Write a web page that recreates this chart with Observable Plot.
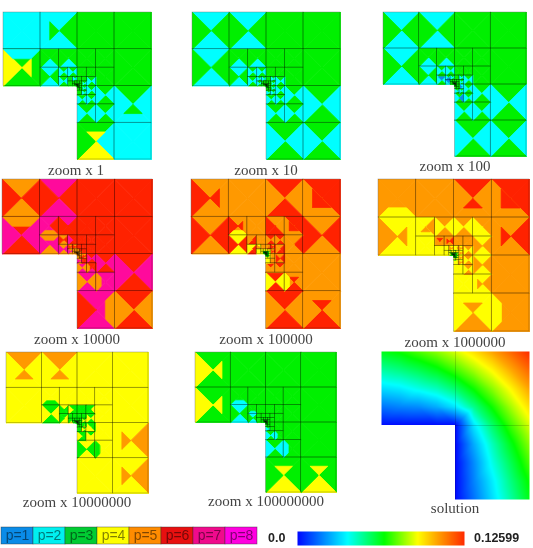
<!DOCTYPE html>
<html>
<head>
<meta charset="utf-8">
<script src="https://cdn.jsdelivr.net/npm/d3@7"></script>
<script src="https://cdn.jsdelivr.net/npm/@observablehq/plot@0.6"></script>
<style>
html,body{margin:0;padding:0;background:#fff;}
#root{position:relative;width:533px;height:548px;overflow:hidden;filter:blur(.5px);background:#fff;}
.box{position:absolute;}
.box svg{overflow:visible;display:block;background:transparent;}
.cap{position:absolute;transform:translate(-50%,-50%);font:15px "Liberation Serif",serif;color:#444;white-space:nowrap;}
.num{position:absolute;transform:translateY(-50%);font:bold 12.5px "Liberation Sans",sans-serif;color:#222;white-space:nowrap;}
</style>
</head>
<body>
<div id="root"></div>
<script>
// ---- legend ----
const orderLabels = ["p=1","p=2","p=3","p=4","p=5","p=6","p=7","p=8"];
const orderValues = [1,2,3,4,5,6,7,8];
const orderColors = ["#0a8ce8","#00ffff","#00f000","#ffff00","#ff9900","#ff2200","#ff0a9c","#ff00ff"];
const legendColors = ["#0a8ce8","#00f0f0","#00cc33","#ffff00","#ff8c00","#e81010","#f00a8c","#ff00e0"];
const rampStops = [0,0.3,0.52,0.72,0.85,1];
const rampColors = ["#0008ff","#00ffff","#00ff00","#ffff00","#ff9900","#ff2a00"];
const rampMin = "0.0", rampMax = "0.12599";
const captions = ["zoom x 1","zoom x 10","zoom x 100","zoom x 10000","zoom x 100000","zoom x 1000000","zoom x 10000000","zoom x 100000000","solution"];

// ---- element orders, per refinement level; each token = N E S W edge order ----
const orders1 = [
 "2222 2322 3334 3333 3333 3333 3222 3243 2222",
 "3323 3323 2323 3333 3333 3333 3232 3232 3232",
 "3232 3232 3232 3333 3333 3232 3232 3232 3232",
 "3333 3232 3333 3333 3333 3232 3232 3333 3232",
 "3333 3333 3333 3333 3333 3333 3333 3333 3333"];
const tips1 = [[0,1,"W",3,0,.5],[0,2,"E",4,0,.5],[0,2,"N",2,.5,1],[0,6,"S",3,0,.5],[0,7,"N",4,0,.5]];
const orders2 = [
 "2323 2323 2323 3333 3333 3333 3232 3232 3232",
 "3323 3323 2323 3333 3333 3333 3232 3232 3232",
 "3232 3232 3232 3333 3333 3232 3232 3232 3232",
 "3232 3232 3232 3333 3232 3232 3232 3232 3232",
 "3333 3333 3333 3333 3333 3333 3333 3333 3333"];
const tips2 = [];
const orders3 = [
 "2323 2323 2323 3333 3333 3333 3232 3232 3232",
 "3323 3323 2323 3333 3333 3333 3232 3232 3232",
 "3232 3232 3232 3333 3333 3232 3232 3232 3232",
 "3232 3232 2222 3333 3232 3232 2222 3232 3232",
 "3333 3333 3333 3333 3333 3333 3333 3333 3333"];
const tips3 = [[2,2,"N",1,0,.7],[2,7,"E",1,0,.8],[3,0,"S",1,0,1],[3,6,"W",1,0,1],[3,2,"N",1,0,1]];
const orders4 = [
 "5656 7676 6767 6666 6666 6666 6767 7776 6565",
 "7677 7666 7757 6666 6666 6666 6767 7575 7777",
 "5656 6667 5757 6666 6666 6666 6767 7575 6676",
 "5656 5656 5757 6666 6666 6666 5656 5757 6666",
 "5555 5555 5555 5555 6666 5656 5555 5555 5656",
 "5555 5555 5555 5555 5555 5555 5555 5555 5555"];
const tips4 = [[0,2,"N",5,.5,1],[0,7,"E",5,.5,1],[1,0,"S",5,.5,1],[1,2,"N",5,.5,1],[1,8,"W",5,.5,1],[2,8,"W",5,.5,1]];
const orders5 = [
 "5556 5555 5656 6565 6655 5656 5555 6565 5565",
 "5556 5555 4646 5566 6655 5655 5555 6464 5565",
 "5665 5555 4664 6565 6565 5665 5656 6555 6555",
 "4455 5555 4444 5565 5656 5656 5555 4444 5555",
 "4444 4444 4444 4444 4444 4444 4444 4444 4444",
 "3333 3333 3333 3333 3333 3333 3333 3333 3333"];
const tips5 = [[0,0,"E",6,0,.5],[0,4,"W",6,0,.5],[0,4,"S",6,0,.5],[0,8,"N",6,0,.5],
 [1,0,"E",6,0,.5],[1,0,"S",4,.5,1],[1,4,"W",6,0,.5],[1,4,"S",6,0,.5],[1,8,"N",6,0,.5],[1,8,"W",4,.5,1]];
const orders6 = [
 "5555 5555 4445 6555 6655 5655 5555 4454 5555",
 "4544 5454 4444 5454 5544 4545 4545 4444 4544",
 "5555 5655 4444 5555 5555 5454 5454 4444 5454",
 "4444 4545 4444 4544 4545 4545 4545 4444 4545",
 "3434 4444 3434 3434 4444 3434 3434 3434 4444",
 "3333 3333 3333 3333 3333 3333 3333 3333 3333"];
const tips6 = [[0,0,"S",4,.5,1],[0,2,"E",5,0,.5],[0,3,"S",6,0,.5],[0,4,"W",6,0,.5],[0,4,"S",6,0,.5],[0,5,"W",6,0,.5],
 [0,7,"N",5,0,.5],[0,8,"W",4,.5,1],[1,0,"S",5,0,.5],[1,8,"W",5,0,.5],[2,0,"N",6,0,.6],[2,1,"W",6,0,.5]];
const orders7 = [
 "5444 5444 4444 4444 4444 4444 4544 4444 4544",
 "4444 4444 3434 4444 4444 4444 4444 4343 4444",
 "4333 3334 3443 3333 3433 3434 3344 3334 3444",
 "3333 3333 3343 3333 3333 3434 3343 3333 3434",
 "3333 3333 3333 3333 3333 3333 3333 3333 3333"];
const tips7 = [[0,0,"S",5,0,.5],[0,1,"S",5,0,.5],[0,6,"W",5,0,.5],[0,8,"W",5,0,.5],[1,0,"S",3,.5,1],[1,8,"W",3,.5,1]];
const orders8 = [
 "3334 3333 3334 3333 3333 3333 3333 3343 3343",
 "3333 3333 2323 3333 3333 3333 3333 3232 3333",
 "3333 3333 2323 3333 3333 3333 3333 3232 3333",
 "3333 3333 3333 3333 3333 3333 3333 3232 3333",
 "3333 3333 3333 3333 3333 3333 3333 3333 3333"];
const tips8 = [[0,0,"E",4,0,.5],[0,2,"E",4,0,.5],[0,7,"N",4,0,.5],[0,8,"N",4,0,.5],[1,0,"S",2,.5,1],[1,8,"W",2,.5,1],[2,0,"S",2,.5,1],[2,8,"W",2,.5,1]];

// ---- solution values read on a half-unit mesh, fraction of the maximum ----
const solX = [0,.5,1,1.5,2,2.5,3,3.5,4];
const solRows = [
 [.50,.53,.58,.63,.69,.76,.84,.92,1],
 [.38,.41,.45,.50,.57,.65,.73,.83,.92],
 [.26,.28,.32,.36,.43,.53,.63,.73,.84],
 [.13,.15,.16,.20,.27,.40,.53,.65,.76],
 [0,0,0,0,0,.27,.43,.57,.69],
 [,,,,0,.20,.36,.50,.63],
 [,,,,0,.16,.32,.45,.58],
 [,,,,0,.15,.28,.41,.53],
 [,,,,0,.13,.26,.38,.50]];

// ---- page layout: left, top, right, bottom of each panel; caption centres ----
const layout = [[3,12,151,159],[192,12,340,159],[383,12,526,156],[2,179,152,328],[191,179,340,328],[378,179,529,331],[6,352,148,493],[195,352,336,492],[381,351,529,499]];
const capAt = [[76,170],[266,170],[455,166],[77,339],[266,339],[455,342],[77,502],[266,501],[455,508]];

// mesh: rings of nine cells graded toward the re-entrant corner
const ring = [[-2,-2],[-1,-2],[-2,-1],[0,-2],[1,-2],[1,-1],[1,0],[0,1],[1,1]];
const corner = 2, depth = 8;
const dirs = {N:[0,-1],S:[0,1],E:[1,0],W:[-1,0]};
function wedge(out, id, cell, side, p, e0, e1){
  const h = cell.s/2, cx = cell.x+h, cy = cell.y+h, [dx,dy] = dirs[side];
  const pt = (e,k)=>({id, p, x:cx+dx*h*e - dy*k*h*e, y:cy+dy*h*e + dx*k*h*e});
  out.push(pt(e0,-1),pt(e1,-1),pt(e1,1),pt(e0,1));
}
function buildMesh(orders,tips){
  const cells=[],pts=[];
  let n=0;
  for(let l=0;l<depth;l++){
    const s=1/2**l, toks=orders[Math.min(l,orders.length-1)].split(" ");
    ring.forEach(([i,j],k)=>{
      const cell={x:corner+i*s,y:corner+j*s,s};
      cells.push(cell);
      ["N","E","S","W"].forEach((d,q)=>wedge(pts,n++,cell,d,+toks[k][q],0,1));
      tips.filter(t=>t[0]===l&&t[1]===k).forEach(t=>wedge(pts,n++,cell,t[2],t[3],t[4],t[5]));
    });
  }
  return {cells,pts};
}
const root=document.getElementById("root");
function place(node,l,t){const d=document.createElement("div");d.className="box";d.style.left=l+"px";d.style.top=t+"px";d.appendChild(node);root.appendChild(d);}

[[orders1,tips1],[orders2,tips2],[orders3,tips3],[orders4,tips4],[orders5,tips5],[orders6,tips6],[orders7,tips7],[orders8,tips8]].forEach(([o,t],i)=>{
  const {cells,pts}=buildMesh(o,t), [l,tp,r,b]=layout[i];
  place(Plot.plot({
    width:r-l,height:b-tp,margin:0,
    x:{domain:[0,4],axis:null},y:{domain:[4,0],axis:null},
    color:{type:"ordinal",domain:orderValues,range:orderColors},
    marks:[
      Plot.line(pts,{x:"x",y:"y",z:"id",fill:"p",stroke:"p",strokeWidth:.8,curve:"linear-closed"}),
      Plot.rect(cells,{x1:"x",y1:"y",x2:d=>d.x+d.s,y2:d=>d.y+d.s,fill:"none",stroke:"#000",strokeOpacity:.38,strokeWidth:.6})
    ]
  }),l,tp);
});

// solution panel
const solNodes=[];
solRows.forEach((row,j)=>row.forEach((v,i)=>{ if(v!==undefined) solNodes.push({x:solX[i],y:solX[j],v}); }));
{
  const [l,tp,r,b]=layout[8];
  place(Plot.plot({
    width:r-l,height:b-tp,margin:0,
    x:{domain:[0,4],axis:null},y:{domain:[4,0],axis:null},
    color:{type:"linear",domain:rampStops,range:rampColors},
    marks:[
      Plot.raster(solNodes,{x:"x",y:"y",fill:"v",interpolate:"barycentric",pixelSize:1,x1:0,x2:4,y1:4,y2:0}),
      Plot.ruleX([2],{y1:0,y2:4,stroke:"#000",strokeOpacity:.15}),
      Plot.ruleY([2],{x1:0,x2:4,stroke:"#000",strokeOpacity:.15}),
      Plot.rect([{a:0,b:2,c:2,d:4}],{x1:"a",x2:"b",y1:"c",y2:"d",fill:"#fff",insetLeft:-3,insetBottom:-3})
    ]
  }),l,tp);
}

// captions
captions.forEach((c,i)=>{const d=document.createElement("div");d.className="cap";d.textContent=c;d.style.left=capAt[i][0]+"px";d.style.top=capAt[i][1]+"px";root.appendChild(d);});

// order legend
const legendRows=orderLabels.map((label,i)=>({label,value:orderValues[i]}));
place(Plot.plot({
  width:257,height:17,margin:0,
  x:{type:"band",domain:orderLabels,padding:0,axis:null},y:{axis:null},
  color:{type:"ordinal",domain:orderValues,range:legendColors},
  marks:[
    Plot.cell(legendRows,{x:"label",fill:"value",stroke:"#333",strokeOpacity:.6,strokeWidth:.7}),
    Plot.text(legendRows,{x:"label",text:"label",fill:"#000",fillOpacity:.5,fontSize:14,fontFamily:"Liberation Sans"})
  ]
}),0,527);

// colour ramp legend
place(Plot.plot({
  width:167,height:14,margin:0,
  x:{domain:[0,1],axis:null},y:{domain:[0,1],axis:null},
  color:{type:"linear",domain:rampStops,range:rampColors},
  marks:[Plot.raster({fill:(x,y)=>x,x1:0,x2:1,y1:0,y2:1,pixelSize:1})]
}),297,531);
[[rampMin,268],[rampMax,474]].forEach(([t,x])=>{const d=document.createElement("div");d.className="num";d.textContent=t;d.style.left=x+"px";d.style.top="538px";root.appendChild(d);});
</script>
</body>
</html>
